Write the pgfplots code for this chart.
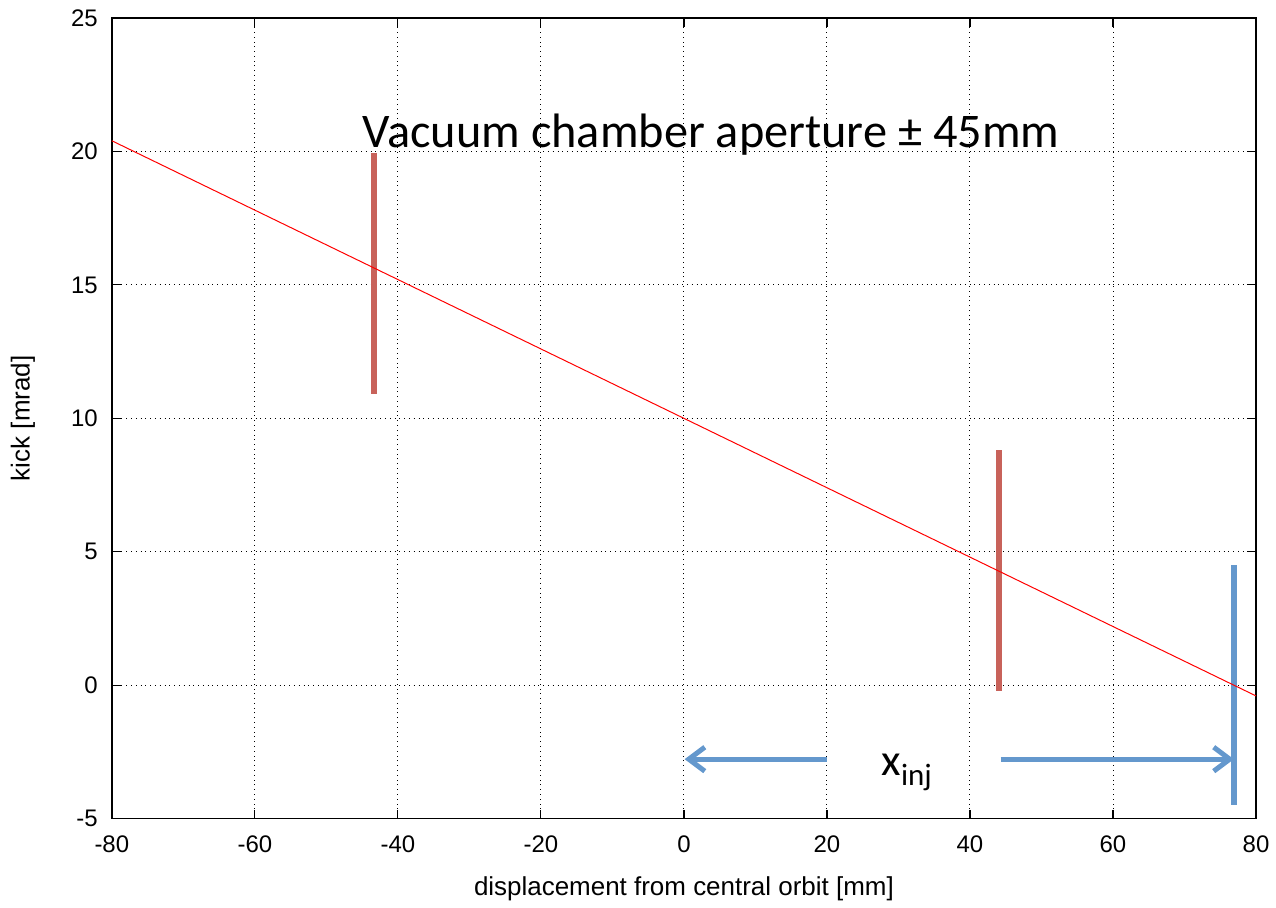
\documentclass[border=0pt]{standalone}
\usepackage{fontspec}
\setmainfont{Liberation Sans}
\newfontfamily\calibri{Carlito}
\usepackage{pgfplots}
\pgfplotsset{compat=1.18}
\usetikzlibrary{arrows.meta,calc}
\definecolor{barred}{RGB}{200,98,90}
\definecolor{barblue}{RGB}{100,152,205}
\begin{document}
\begin{tikzpicture}
\begin{axis}[
 scale only axis, width=573pt, height=401pt,
 xmin=-80,xmax=80,ymin=-5,ymax=25,
 xtick={-80,-60,...,80}, ytick={-5,0,...,25},
 grid=major, grid style={dotted, black, line width=0.5pt},
 tick align=inside, major tick length=4.5pt,
 tick style={black, line width=0.6pt},
 axis line style={line width=0.8pt},
 tick label style={font=\fontsize{12}{14}\selectfont},
 xticklabel style={yshift=-5pt},
 yticklabel style={xshift=-3.5pt},
 label style={font=\fontsize{13}{15}\selectfont},
 /pgf/number format/assume math mode=true,
 xlabel={displacement from central orbit [mm]},
 ylabel={kick [mrad]},
 xlabel style={at={(axis description cs:0.5,-0.087)},anchor=center},
 ylabel style={at={(axis description cs:-0.0777,0.5)},anchor=center},
 clip=false,
]
\coordinate (sw) at (rel axis cs:0,0);
\coordinate (ne) at (rel axis cs:1,1);
\addplot[barred, line width=3pt] coordinates {(-43.3,19.95) (-43.3,10.9)};
\addplot[barred, line width=3pt] coordinates {(44,8.8) (44,-0.2)};
\addplot[barblue, line width=3pt] coordinates {(76.9,4.5) (76.9,-4.5)};
\addplot[barblue, line width=2.5pt, -{Straight Barb[length=8pt,width=12pt]}] coordinates {(20,-2.77) (0.1,-2.77)};
\addplot[barblue, line width=2.5pt, -{Straight Barb[length=8pt,width=12pt]}] coordinates {(44.3,-2.77) (76.9,-2.77)};
\addplot[red, line width=0.5pt] coordinates {(-80,20.4) (80,-0.4)};
\node[anchor=base west, font=\calibri\fontsize{24.2}{28}\selectfont, inner sep=0pt] at (axis cs:-45,20.13) {Vacuum chamber aperture ± 45mm};
\node[anchor=base west, font=\calibri\fontsize{22.5}{26}\selectfont, inner sep=0pt] at (axis cs:27.6,-3.4) {x\raisebox{-5pt}{\fontsize{15.5}{18}\selectfont inj}};
\end{axis}
\path[use as bounding box] ($(sw)+(-56pt,-40pt)$) rectangle ($(ne)+(9pt,9pt)$);
\end{tikzpicture}
\end{document}
